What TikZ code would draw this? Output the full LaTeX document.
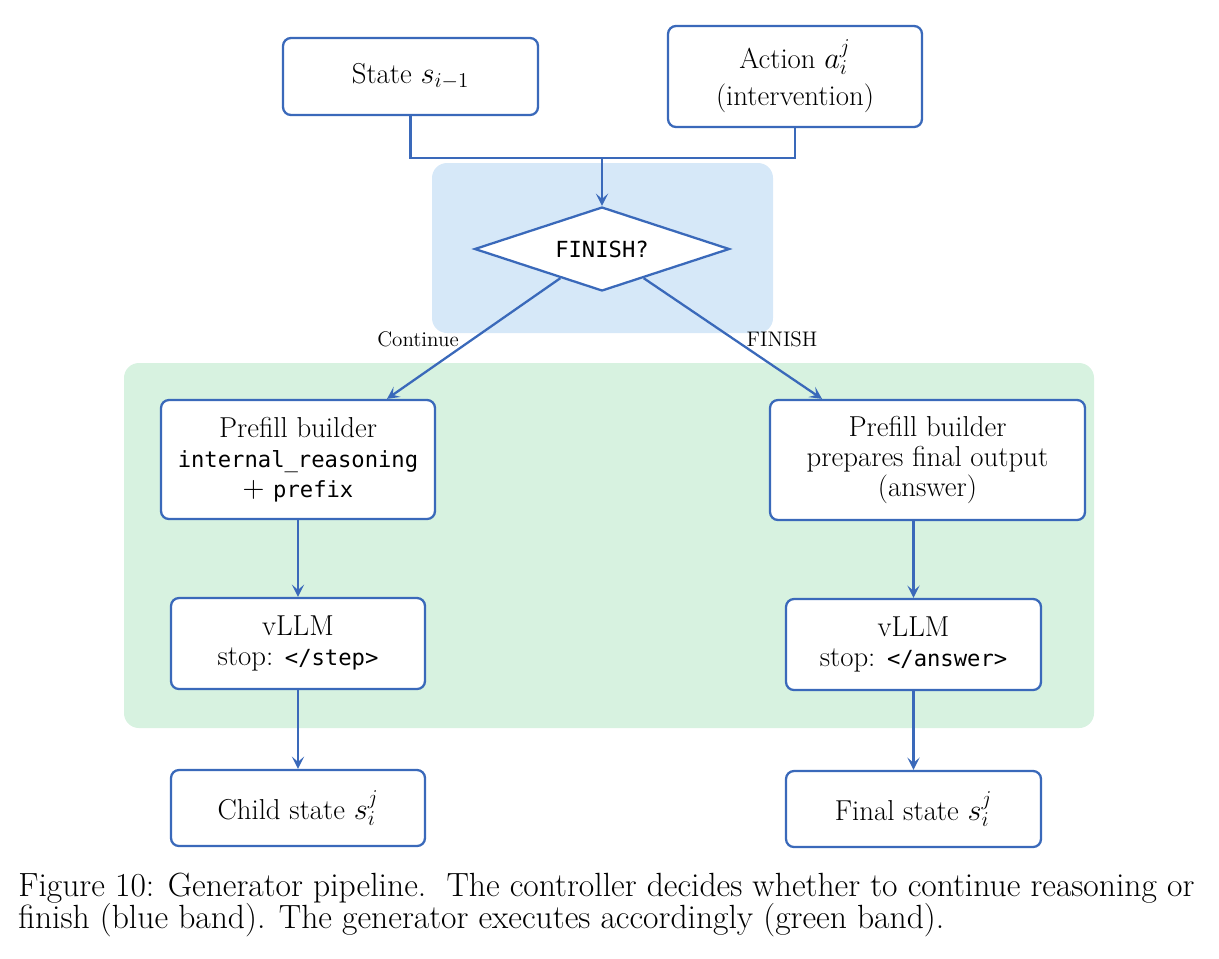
\documentclass[tikz,border=0pt]{standalone}
\usepackage{fontspec}
\setmonofont{DejaVu Sans Mono}[Scale=0.77]
\usetikzlibrary{shapes.geometric,arrows.meta}
\definecolor{edgeblue}{HTML}{3A69BA}
\definecolor{bandblue}{HTML}{D6E8F8}
\definecolor{bandgreen}{HTML}{D7F2E0}
\begin{document}
\begin{tikzpicture}[x=0.02cm,y=-0.02cm,
  box/.style={draw=edgeblue,line width=1.3pt,rounded corners=4.5pt,fill=white,align=center,inner sep=2pt,font=\fontsize{16.4}{17.2}\selectfont},
  dec/.style={diamond,aspect=3,draw=edgeblue,line width=1.3pt,fill=white,inner sep=0pt,font=\fontsize{16.4}{17.2}\selectfont},
  conn/.style={draw=edgeblue,line width=1.3pt},
  arr/.style={conn,-{Stealth[length=7pt,width=7pt,inset=3pt]}},
  lab/.style={font=\fontsize{12}{14}\selectfont,inner sep=0pt},
  captext/.style={font=\fontsize{19.1}{21}\selectfont,inner sep=0pt,anchor=base west},
  band/.style={rounded corners=8.5pt}
]
\useasboundingbox (0,0) rectangle (1219,958);
% bands
\fill[bandblue,band] (432,163) rectangle (773,333);
\fill[bandgreen,band] (124,363) rectangle (1094,728);
% nodes
\node[box,minimum width=5.1cm,minimum height=1.54cm] (state) at (410.5,76.5) {State $s_{i-1}$};
\node[box,minimum width=5.08cm,minimum height=2.02cm] (action) at (795,76.5) {Action $a_i^j$\\[4pt](intervention)};
\node[dec,minimum width=5.1cm,minimum height=1.68cm] (dia) at (602,249) {\texttt{FINISH?}};
\node[box,minimum width=5.48cm,minimum height=2.38cm] (prefL) at (298,459.5) {Prefill builder\\\texttt{internal\_reasoning}\\$+$ \texttt{prefix}};
\node[box,minimum width=6.3cm,minimum height=2.4cm] (prefR) at (927.5,460) {Prefill builder\\prepares final output\\(answer)};
\node[box,minimum width=5.08cm,minimum height=1.82cm] (vllmL) at (298,643.5) {vLLM\\stop: \texttt{</step>}};
\node[box,minimum width=5.1cm,minimum height=1.82cm] (vllmR) at (913.5,644.5) {vLLM\\stop: \texttt{</answer>}};
\node[box,minimum width=5.08cm,minimum height=1.52cm] (child) at (298,808) {Child state $s_i^j$};
\node[box,minimum width=5.1cm,minimum height=1.52cm] (final) at (913.5,809) {Final state $s_i^j$};
% connectors
\coordinate (join) at (602,158);
\draw[conn] (state.south) |- (join) -| (action.south);
\draw[arr] (join) -- (dia.north);
\draw[arr] (dia.215) -- (387,0 |- prefL.north);
\draw[arr] (dia.325) -- (822,0 |- prefR.north);
\draw[arr] (prefL.south) -- (vllmL.north);
\draw[arr] (vllmR.north |- prefR.south) -- (vllmR.north);
\draw[arr] (vllmL.south) -- (child.north);
\draw[arr] (vllmR.south) -- (final.north);
% labels
\node[lab] (lc) at (418,339) {Continue};
\node[lab] (lf) at (782,339) {FINISH};
% caption
\node[captext] (cap1) at (18,896) {Figure 10: Generator pipeline.\ \ The controller decides whether to continue reasoning or};
\node[captext] (cap2) at (18,928) {finish (blue band). The generator executes accordingly (green band).};
\end{tikzpicture}
\end{document}
